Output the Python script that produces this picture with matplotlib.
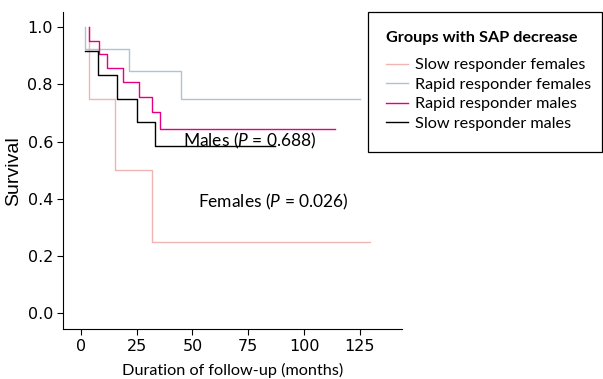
import matplotlib
matplotlib.use('Agg')
import matplotlib.pyplot as plt
from matplotlib.patches import Rectangle

plt.rcParams['font.family'] = ['Lato', 'DejaVu Sans']
plt.rcParams['mathtext.fontset'] = 'custom'
plt.rcParams['mathtext.rm'] = 'Lato'
plt.rcParams['mathtext.it'] = 'Lato:italic'

# Kaplan-Meier curves (months, survival)
slow_f_t = [3.6, 3.6, 15.2, 31.8, 129.5]
slow_f_s = [1.0, 0.75, 0.5, 0.25, 0.25]

rapid_f_t = [2.0, 2.0, 21.5, 44.9, 125.0]
rapid_f_s = [1.0, 0.923, 0.846, 0.75, 0.75]

rapid_m_t = [3.6, 3.6, 8.1, 11.9, 18.9, 26.0, 31.9, 35.4, 113.8]
rapid_m_s = [1.0, 0.952, 0.905, 0.857, 0.810, 0.757, 0.703, 0.644, 0.644]

slow_m_t = [1.8, 7.7, 16.4, 25.4, 33.1, 87.0]
slow_m_s = [0.917, 0.833, 0.75, 0.667, 0.583, 0.583]

groups = ['Slow responder females', 'Rapid responder females',
          'Rapid responder males', 'Slow responder males']
colors = ['#f2b3b3', '#b4c2cc', '#e5007d', '#000000']
xticks = [0, 25, 50, 75, 100, 125]
yticks = [0.0, 0.2, 0.4, 0.6, 0.8, 1.0]

fig = plt.figure(figsize=(6.03, 3.79), dpi=100)
ax = fig.add_axes([0.105, 0.132, 0.561, 0.8355])

curves = [(slow_f_t, slow_f_s), (rapid_f_t, rapid_f_s),
          (rapid_m_t, rapid_m_s), (slow_m_t, slow_m_s)]
for (t, s), lab, c in zip(curves, groups, colors):
    ax.step(t, s, where='post', color=c, lw=1.0, label=lab)

ax.text(45.9, 0.602, 'Males ($P$ = 0.688)', fontsize=12.5, va='center', ha='left')
ax.text(52.5, 0.39, 'Females ($P$ = 0.026)', fontsize=12.5, va='center', ha='left')

ax.set_xlim(-7.8, 143.7)
ax.set_ylim(-0.055, 1.052)
ax.set_xticks(xticks)
ax.set_yticks(yticks)
ax.set_xticklabels([str(v) for v in xticks], family='Liberation Sans Narrow', fontsize=11.5)
ax.set_yticklabels(['%.1f' % v for v in yticks], family='Liberation Sans Narrow', fontsize=11.5)
ax.tick_params(direction='out', length=4, width=0.8)
ax.spines['top'].set_visible(False)
ax.spines['right'].set_visible(False)
ax.set_xlabel('Duration of follow-up (months)', fontsize=11.7, labelpad=6.5)
ax.set_ylabel('Survival', family='Liberation Sans', fontsize=14, labelpad=4)

# legend box
fig.patches.append(Rectangle((0.6103, 0.5997), 0.3876, 0.3694, transform=fig.transFigure,
                             fill=False, edgecolor='black', lw=0.9))
fig.text(386 / 603, 1 - 38 / 379, 'Groups with SAP decrease', fontsize=11.7,
         weight='bold', va='center', ha='left')
handles, labels = ax.get_legend_handles_labels()
fig.legend(handles, labels, loc='upper left', bbox_to_anchor=(386 / 603, 1 - 58 / 379),
           fontsize=11.7, frameon=False, handlelength=1.35, handletextpad=0.43,
           labelspacing=0.31, borderpad=0, borderaxespad=0)

fig.savefig('out.png', dpi=100)
